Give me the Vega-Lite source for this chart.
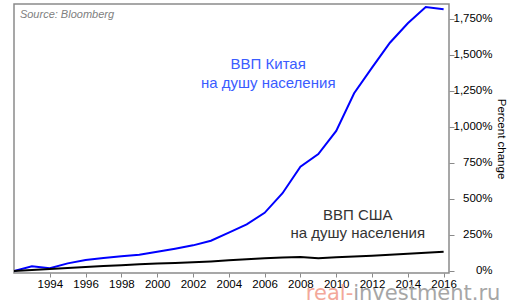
{
  "$schema": "https://vega.github.io/schema/vega-lite/v6.json",
  "width": 435,
  "height": 269,
  "autosize": "none",
  "padding": {"left": 14, "top": 4, "right": 61, "bottom": 34},
  "background": "white",
  "config": {
    "view": {"stroke": "#8a8a8a", "strokeWidth": 1.5},
    "font": "Liberation Sans"
  },
  "datasets": {
    "series": [
      {"year": 1992, "value": 0, "country": "China"},
      {"year": 1993, "value": 33, "country": "China"},
      {"year": 1994, "value": 19, "country": "China"},
      {"year": 1995, "value": 53, "country": "China"},
      {"year": 1996, "value": 76, "country": "China"},
      {"year": 1997, "value": 90, "country": "China"},
      {"year": 1998, "value": 102, "country": "China"},
      {"year": 1999, "value": 113, "country": "China"},
      {"year": 2000, "value": 134, "country": "China"},
      {"year": 2001, "value": 155, "country": "China"},
      {"year": 2002, "value": 178, "country": "China"},
      {"year": 2003, "value": 210, "country": "China"},
      {"year": 2004, "value": 266, "country": "China"},
      {"year": 2005, "value": 324, "country": "China"},
      {"year": 2006, "value": 404, "country": "China"},
      {"year": 2007, "value": 540, "country": "China"},
      {"year": 2008, "value": 724, "country": "China"},
      {"year": 2009, "value": 812, "country": "China"},
      {"year": 2010, "value": 973, "country": "China"},
      {"year": 2011, "value": 1234, "country": "China"},
      {"year": 2012, "value": 1412, "country": "China"},
      {"year": 2013, "value": 1585, "country": "China"},
      {"year": 2014, "value": 1720, "country": "China"},
      {"year": 2015, "value": 1833, "country": "China"},
      {"year": 2016, "value": 1817, "country": "China"},
      {"year": 1992, "value": 0, "country": "USA"},
      {"year": 1993, "value": 7, "country": "USA"},
      {"year": 1994, "value": 14, "country": "USA"},
      {"year": 1995, "value": 20, "country": "USA"},
      {"year": 1996, "value": 27, "country": "USA"},
      {"year": 1997, "value": 34, "country": "USA"},
      {"year": 1998, "value": 40, "country": "USA"},
      {"year": 1999, "value": 46, "country": "USA"},
      {"year": 2000, "value": 52, "country": "USA"},
      {"year": 2001, "value": 55, "country": "USA"},
      {"year": 2002, "value": 60, "country": "USA"},
      {"year": 2003, "value": 66, "country": "USA"},
      {"year": 2004, "value": 74, "country": "USA"},
      {"year": 2005, "value": 82, "country": "USA"},
      {"year": 2006, "value": 88, "country": "USA"},
      {"year": 2007, "value": 94, "country": "USA"},
      {"year": 2008, "value": 97, "country": "USA"},
      {"year": 2009, "value": 88, "country": "USA"},
      {"year": 2010, "value": 95, "country": "USA"},
      {"year": 2011, "value": 100, "country": "USA"},
      {"year": 2012, "value": 106, "country": "USA"},
      {"year": 2013, "value": 113, "country": "USA"},
      {"year": 2014, "value": 120, "country": "USA"},
      {"year": 2015, "value": 127, "country": "USA"},
      {"year": 2016, "value": 134, "country": "USA"}
    ],
    "labels": [
      {"text": "ВВП Китая", "year": 2006.2, "value": 1437, "group": "china"},
      {"text": "на душу населения", "year": 2006.2, "value": 1303, "group": "china"},
      {"text": "ВВП США", "year": 2011.2, "value": 389, "group": "usa"},
      {"text": "на душу населения", "year": 2011.2, "value": 262, "group": "usa"}
    ]
  },
  "encoding": {
    "x": {
      "field": "year", "type": "quantitative",
      "scale": {"domain": [1992, 2016.3], "nice": false, "zero": false},
      "axis": {
        "values": [1994, 1996, 1998, 2000, 2002, 2004, 2006, 2008, 2010, 2012, 2014, 2016],
        "format": "d", "title": null, "grid": false, "domain": false,
        "tickColor": "#8a8a8a", "tickSize": 4, "labelFontSize": 11.5,
        "labelColor": "#000", "labelPadding": 1, "labelFont": "Liberation Sans",
        "labelOverlap": false, "labelBound": false, "labelFlush": false
      }
    },
    "y": {
      "field": "value", "type": "quantitative",
      "scale": {"domain": [-14, 1854], "nice": false, "zero": false},
      "axis": {
        "orient": "right",
        "values": [0, 250, 500, 750, 1000, 1250, 1500, 1750],
        "labelExpr": "format(datum.value, ',') + '%'",
        "title": "Percent change", "titleAngle": 90, "titleFontWeight": "normal",
        "titleFontSize": 11.5, "titleColor": "#000", "titlePadding": 3,
        "titleFont": "Liberation Sans",
        "grid": false, "domain": false, "tickColor": "#8a8a8a", "tickSize": 5,
        "labelAlign": "right", "labelPadding": 38, "labelFontSize": 11.5,
        "labelColor": "#000", "labelFont": "Liberation Sans",
        "labelOverlap": false, "labelBound": false, "labelFlush": false
      }
    }
  },
  "layer": [
    {
      "data": {"name": "series"},
      "mark": {"type": "line", "strokeWidth": 2, "clip": true},
      "encoding": {
        "color": {
          "field": "country", "type": "nominal",
          "scale": {"domain": ["China", "USA"], "range": ["#0000ff", "#000000"]},
          "legend": null
        }
      }
    },
    {
      "data": {"name": "labels"},
      "transform": [{"filter": "datum.group === 'china'"}],
      "mark": {"type": "text", "fontSize": 15, "color": "#3a5cff", "align": "center", "baseline": "middle", "font": "Liberation Sans"},
      "encoding": {"text": {"field": "text"}}
    },
    {
      "data": {"name": "labels"},
      "transform": [{"filter": "datum.group === 'usa'"}],
      "mark": {"type": "text", "fontSize": 15, "color": "#333333", "align": "center", "baseline": "middle", "font": "Liberation Sans"},
      "encoding": {"text": {"field": "text"}}
    },
    {
      "data": {"values": [{"text": "Source: Bloomberg", "year": 1992.33, "value": 1778}]},
      "mark": {"type": "text", "fontSize": 11, "fontStyle": "italic", "color": "#808080", "align": "left", "baseline": "middle", "font": "Liberation Sans"},
      "encoding": {"text": {"field": "text"}}
    },
    {
      "data": {"values": [{"text": "real-", "year": 2010.95, "value": -202}]},
      "mark": {"type": "text", "fontSize": 21, "color": "#f3a89a", "align": "right", "baseline": "alphabetic", "font": "DejaVu Sans", "clip": false},
      "encoding": {"text": {"field": "text"}}
    },
    {
      "data": {"values": [{"text": "investment.ru", "year": 2010.95, "value": -202}]},
      "mark": {"type": "text", "fontSize": 21, "color": "#a6a6a6", "align": "left", "baseline": "alphabetic", "font": "DejaVu Sans", "clip": false},
      "encoding": {"text": {"field": "text"}}
    }
  ]
}
